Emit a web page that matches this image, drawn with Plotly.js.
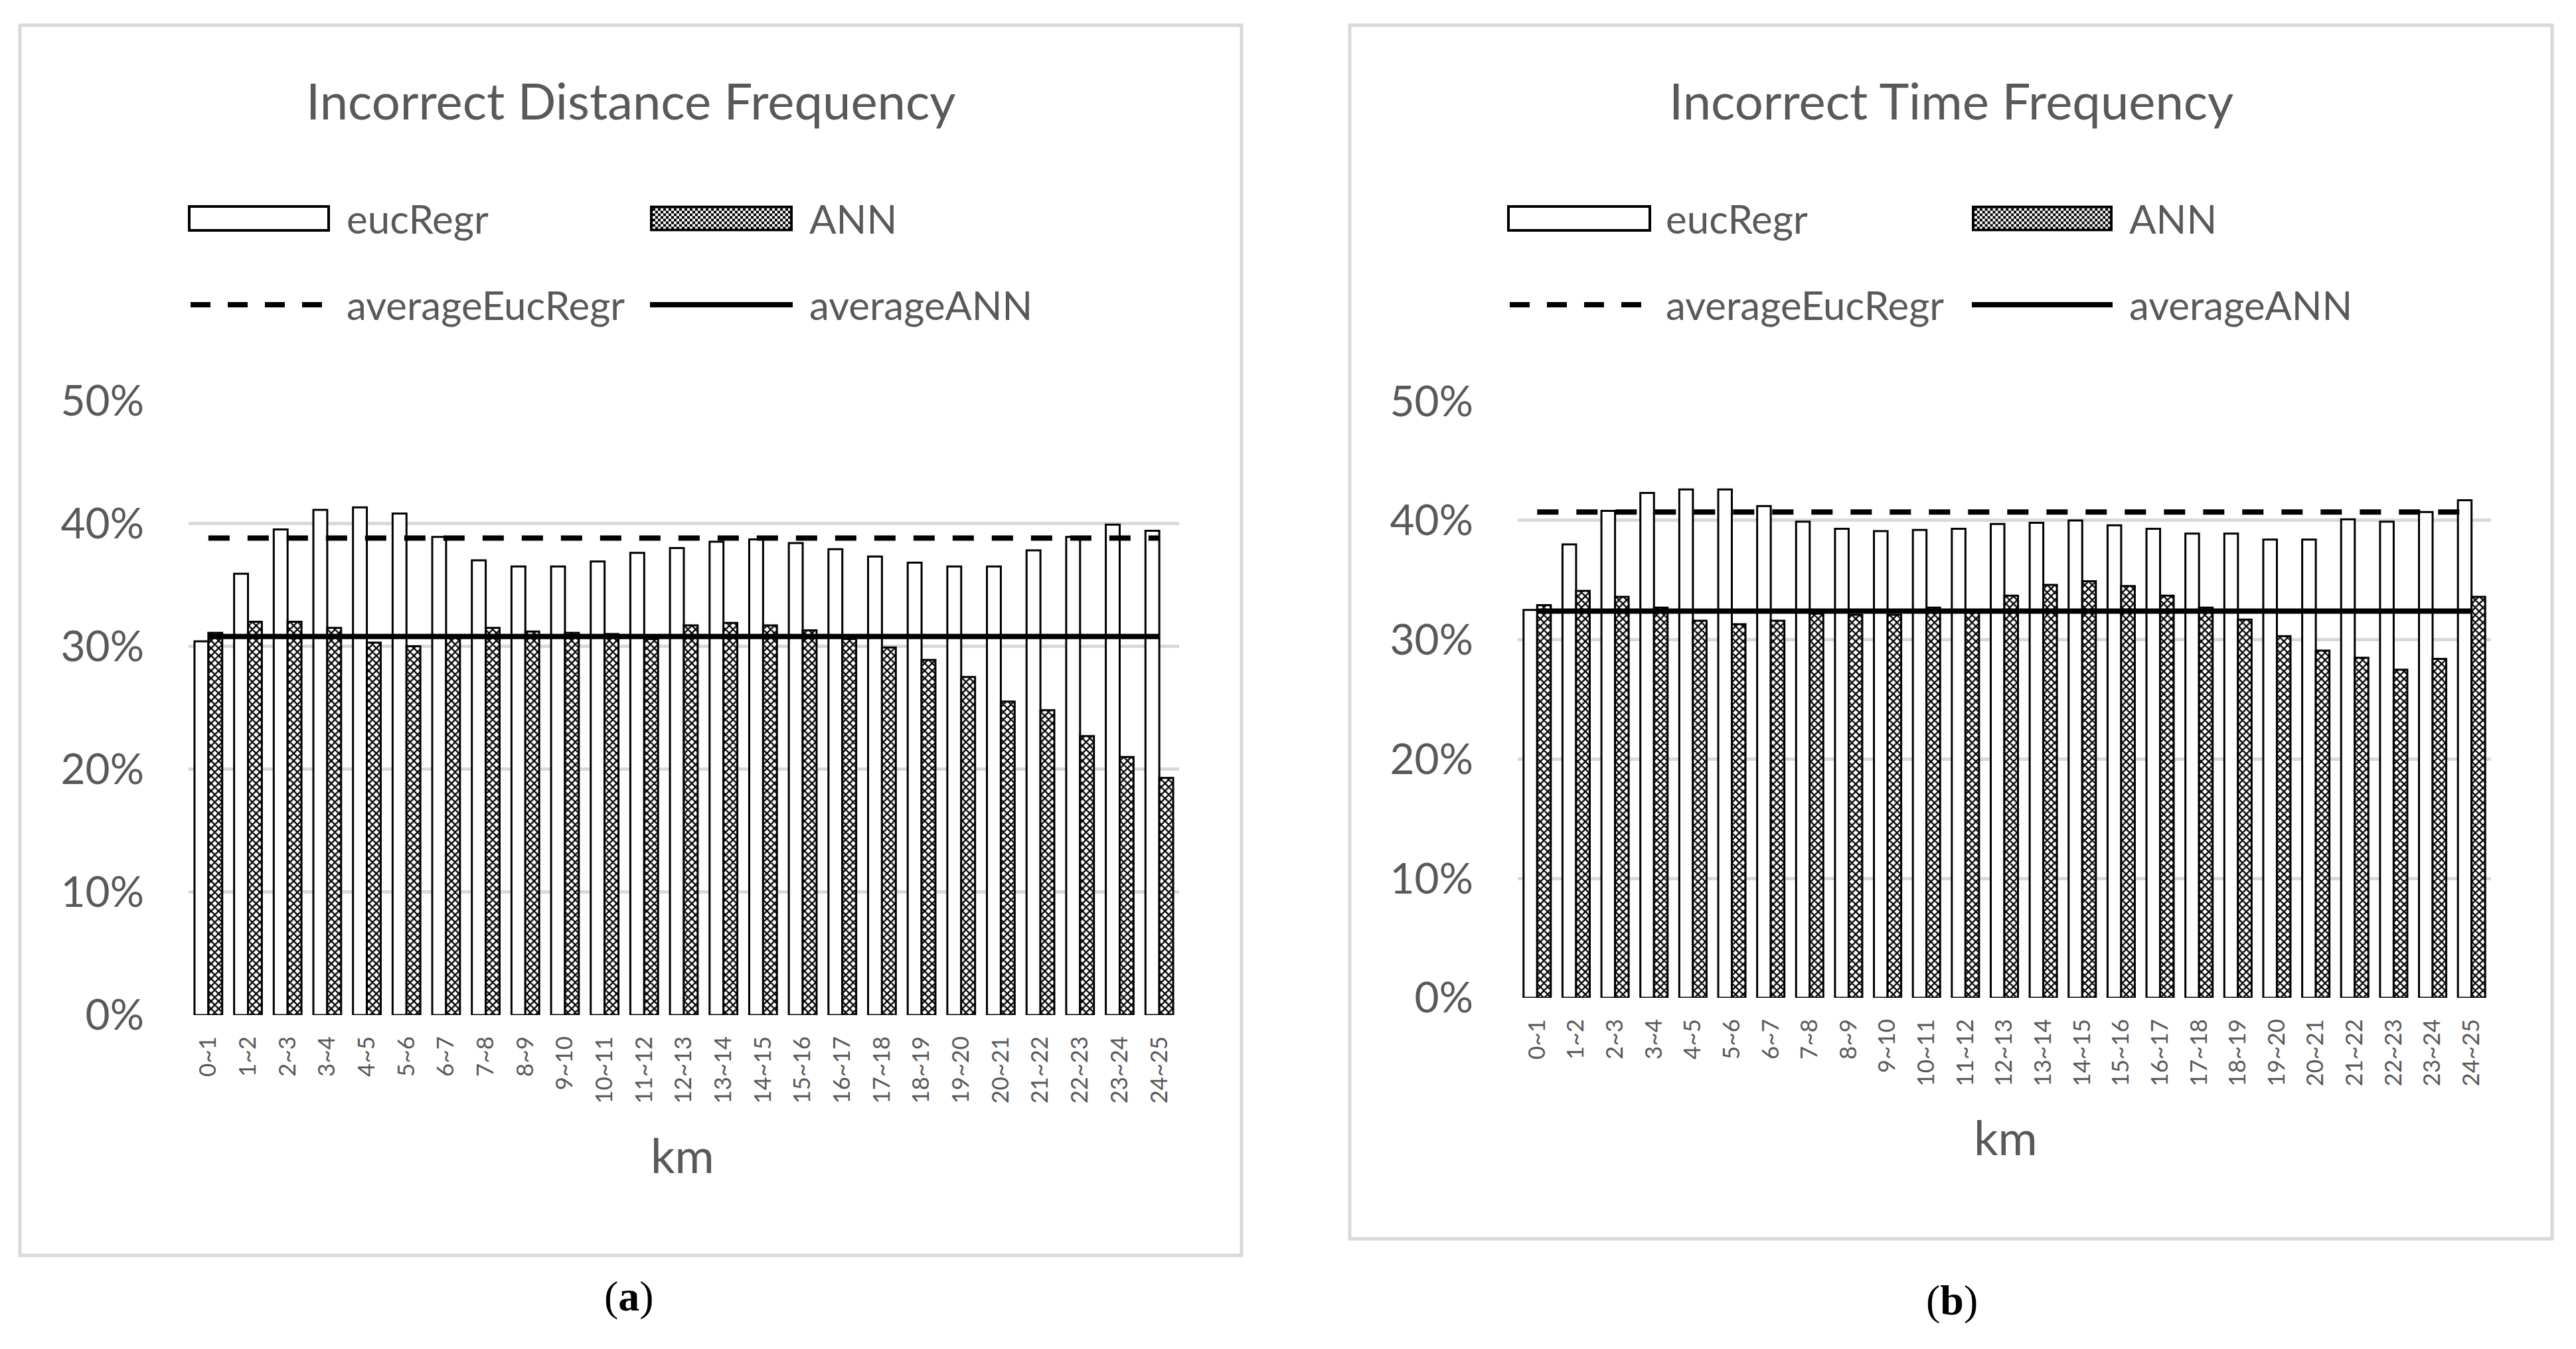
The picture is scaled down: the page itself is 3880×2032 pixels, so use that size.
<!DOCTYPE html>
<html><head><meta charset="utf-8">
<script src="https://cdn.plot.ly/plotly-3.0.1.min.js"></script>
<style>html,body{margin:0;padding:0;background:#fff;}#chart{width:3880px;height:2032px;}</style>
</head><body><div id="chart"></div>
<script>
// ---------- data ----------
const categories = ['0~1','1~2','2~3','3~4','4~5','5~6','6~7','7~8','8~9','9~10','10~11','11~12','12~13',
  '13~14','14~15','15~16','16~17','17~18','18~19','19~20','20~21','21~22','22~23','23~24','24~25'];

// (a) Incorrect Distance Frequency
const distEucRegr = [0.304,0.359,0.395,0.411,0.413,0.408,0.389,0.370,0.365,0.365,0.369,0.376,0.380,
  0.385,0.387,0.384,0.379,0.373,0.368,0.365,0.365,0.378,0.389,0.399,0.394];
const distANN = [0.311,0.320,0.320,0.315,0.303,0.300,0.307,0.315,0.312,0.311,0.310,0.306,0.317,
  0.319,0.317,0.313,0.306,0.299,0.289,0.275,0.255,0.248,0.227,0.210,0.193];
const distAverageEucRegr = 0.388;
const distAverageANN = 0.308;

// (b) Incorrect Time Frequency
const timeEucRegr = [0.325,0.380,0.408,0.423,0.426,0.426,0.412,0.399,0.393,0.391,0.392,0.393,0.397,
  0.398,0.400,0.396,0.393,0.389,0.389,0.384,0.384,0.401,0.399,0.407,0.417];
const timeANN = [0.329,0.341,0.336,0.327,0.316,0.313,0.316,0.322,0.321,0.321,0.327,0.323,0.337,
  0.346,0.349,0.345,0.337,0.327,0.317,0.303,0.291,0.285,0.275,0.284,0.336];
const timeAverageEucRegr = 0.407;
const timeAverageANN = 0.324;

const yTickValues = [0,0.1,0.2,0.3,0.4,0.5];
const titles = ['Incorrect Distance Frequency','Incorrect Time Frequency'];
const legendNames = ['eucRegr','ANN','averageEucRegr','averageANN'];
const xAxisTitle = 'km';
const captions = ['a','b'];

// ---------- helpers ----------
const W = 3880, H = 2032;
const X = p => p / W, Y = p => 1 - p / H;
const FONT = 'Lato, "Open Sans", sans-serif';
const GRAY = '#595959';
const GRID = '#d9d9d9';

function traces(xa, ya, euc, ann, avgE, avgA){
  return [
    {type:'bar', x:categories, y:euc, xaxis:xa, yaxis:ya, name:legendNames[0], showlegend:false,
     marker:{color:'#ffffff', line:{color:'#000000', width:3}}},
    {type:'bar', x:categories, y:ann, xaxis:xa, yaxis:ya, name:legendNames[1], showlegend:false,
     marker:{color:'#ffffff', line:{color:'#000000', width:3},
             pattern:{shape:'x', size:8, solidity:0.5, fgcolor:'#000000', bgcolor:'#ffffff', fillmode:'replace'}}},
    {type:'scatter', mode:'lines', x:categories, y:categories.map(() => avgE), xaxis:xa, yaxis:ya,
     name:legendNames[2], showlegend:false, line:{color:'#000000', width:8, dash:'32px,27px'}},
    {type:'scatter', mode:'lines', x:categories, y:categories.map(() => avgA), xaxis:xa, yaxis:ya,
     name:legendNames[3], showlegend:false, line:{color:'#000000', width:8}}
  ];
}

const data = [
  ...traces('x','y', distEucRegr, distANN, distAverageEucRegr, distAverageANN),
  ...traces('x2','y2', timeEucRegr, timeANN, timeAverageEucRegr, timeAverageANN)
];

function xAxis(d0, d1, anchor){
  return {domain:[X(d0), X(d1)], anchor:anchor, type:'category', tickangle:-90,
    tickfont:{family:FONT, size:35, color:GRAY}, showgrid:false, showline:false, zeroline:false,
    ticks:'', ticklabelstandoff:24, fixedrange:true};
}
function yAxis(p0, p50, anchor){
  return {domain:[Y(p0), Y(p50)], anchor:anchor, range:[0,0.5001], tickvals:yTickValues, tickformat:'.0%',
    showgrid:true, gridcolor:GRID, gridwidth:5, zeroline:false, showline:false, ticks:'',
    tickfont:{family:FONT, size:64, color:GRAY}, ticklabelstandoff:66, fixedrange:true};
}

// legend layout (pixel positions of each panel's legend)
const panels = [
  {box:[30,38,1870,1891], titleX:950, sw1:[285,495], sw2:[979,1194], tx1:520, tx2:1217, kmX:1028, kmY:1739, capX:947, capY:1952},
  {box:[2033,38,3844,1866], titleX:2939, sw1:[2272,2485], sw2:[2970,3182], tx1:2507, tx2:3205, kmX:3021, kmY:1712, capX:2940, capY:1958}
];
const row1 = 329, row2 = 459;

const shapes = [], annotations = [], images = [];
const checker = "<svg xmlns='http://www.w3.org/2000/svg' width='215' height='39'><defs><pattern id='p' width='8' height='8' patternUnits='userSpaceOnUse'><rect width='8' height='8' fill='white'/><rect width='4' height='4' fill='black'/><rect x='4' y='4' width='4' height='4' fill='black'/></pattern></defs><rect x='2' y='2' width='211' height='35' fill='url(#p)' stroke='black' stroke-width='4'/></svg>";
const checkerURI = 'data:image/svg+xml;charset=utf-8,' + encodeURIComponent(checker);

panels.forEach((p, i) => {
  shapes.push({type:'rect', xref:'paper', yref:'paper', x0:X(p.box[0]), y0:Y(p.box[1]), x1:X(p.box[2]), y1:Y(p.box[3]),
    line:{color:GRID, width:5}, fillcolor:'rgba(0,0,0,0)', layer:'below'});
  // legend swatches
  shapes.push({type:'rect', xref:'paper', yref:'paper', x0:X(p.sw1[0]), x1:X(p.sw1[1]), y0:Y(row1-18), y1:Y(row1+18),
    line:{color:'#000', width:4}, fillcolor:'#ffffff'});
  images.push({source:checkerURI, xref:'paper', yref:'paper', x:X(p.sw2[0]), y:Y(row1-19.5),
    sizex:(p.sw2[1]-p.sw2[0])/W, sizey:39/H, xanchor:'left', yanchor:'top', sizing:'stretch', layer:'above'});
  shapes.push({type:'line', xref:'paper', yref:'paper', x0:X(p.sw1[0]+2), x1:X(p.sw1[1]-8), y0:Y(row2), y1:Y(row2),
    line:{color:'#000', width:8, dash:'30px,26px'}});
  shapes.push({type:'line', xref:'paper', yref:'paper', x0:X(p.sw2[0]), x1:X(p.sw2[1]), y0:Y(row2), y1:Y(row2),
    line:{color:'#000', width:8}});
  const legTxt = (txt, x, y) => ({text:txt, xref:'paper', yref:'paper', x:X(x), y:Y(y), xanchor:'left', yanchor:'middle',
    showarrow:false, font:{family:FONT, size:60, color:GRAY}});
  annotations.push(legTxt(legendNames[0], p.tx1, row1));
  annotations.push(legTxt(legendNames[1], p.tx2, row1));
  annotations.push(legTxt(legendNames[2], p.tx1, row2));
  annotations.push(legTxt(legendNames[3], p.tx2, row2));
  annotations.push({text:titles[i], xref:'paper', yref:'paper', x:X(p.titleX), y:Y(151), xanchor:'center', yanchor:'middle',
    showarrow:false, font:{family:FONT, size:76, color:GRAY}});
  annotations.push({text:xAxisTitle, xref:'paper', yref:'paper', x:X(p.kmX), y:Y(p.kmY), xanchor:'center', yanchor:'middle',
    showarrow:false, font:{family:FONT, size:72, color:GRAY}});
  annotations.push({text:'(<b>' + captions[i] + '</b>)', xref:'paper', yref:'paper', x:X(p.capX), y:Y(p.capY), xanchor:'center', yanchor:'middle',
    showarrow:false, font:{family:'"Liberation Serif", "Times New Roman", serif', size:64, color:'#000000'}});
});

const layout = {
  width:W, height:H, margin:{l:0, r:0, t:0, b:0}, paper_bgcolor:'#ffffff', plot_bgcolor:'rgba(0,0,0,0)',
  showlegend:false, barmode:'group', bargap:0.30, bargroupgap:0,
  xaxis: xAxis(284, 1776, 'y'),
  yaxis: yAxis(1529, 603, 'x'),
  xaxis2: xAxis(2286, 3752, 'y2'),
  yaxis2: yAxis(1503, 604, 'x2'),
  shapes:shapes, annotations:annotations, images:images
};

Plotly.newPlot('chart', data, layout, {staticPlot:true, displayModeBar:false});
</script>
</body></html>
